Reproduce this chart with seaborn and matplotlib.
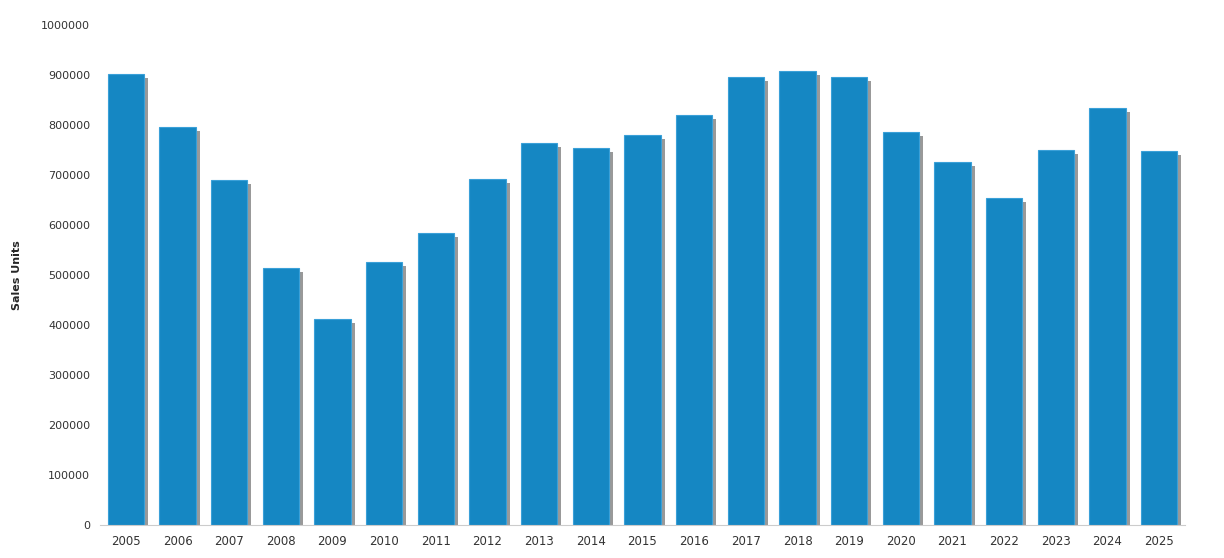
import matplotlib
matplotlib.use("Agg")
import matplotlib.pyplot as plt
import matplotlib.patheffects as pe
import seaborn as sns
import pandas as pd

years = [str(y) for y in range(2005, 2026)]
units = [902000, 796000, 690000, 514000, 412000, 526000, 584000, 692000, 764000, 754000,
         780000, 820000, 896000, 908000, 896000, 786000, 726000, 654000, 750000, 834000, 748000]

df = pd.DataFrame({"Year": years, "Units": units})
sns.set_style("white")
fig = plt.figure(figsize=(12.24, 5.58), dpi=100)
ax = fig.add_axes([100/1224, 33/558, 1085/1224, 500/558])
sns.barplot(data=df, x="Year", y="Units", color="#1587c3", saturation=1, width=0.7, ax=ax)
for p in ax.patches:
    p.set_edgecolor("#3aa0d8")
    p.set_linewidth(0.8)
    p.set_path_effects([pe.SimplePatchShadow(offset=(3, -3), shadow_rgbFace="#555555", alpha=0.6), pe.Normal()])
ax.set_ylim(0, 1000000)
ax.set_yticks(range(0, 1000001, 100000))
ax.set_yticklabels([str(v) for v in range(0, 1000001, 100000)], fontsize=8, color="#333333")
ax.tick_params(axis="x", labelsize=8.5, colors="#333333")
ax.set_xlabel("")
ax.set_ylabel("Sales Units", fontsize=8, fontweight="bold", labelpad=14)
for s in ["top", "right", "left"]:
    ax.spines[s].set_visible(False)
ax.spines["bottom"].set_color("#cccccc")
fig.savefig("out.png", dpi=100)
